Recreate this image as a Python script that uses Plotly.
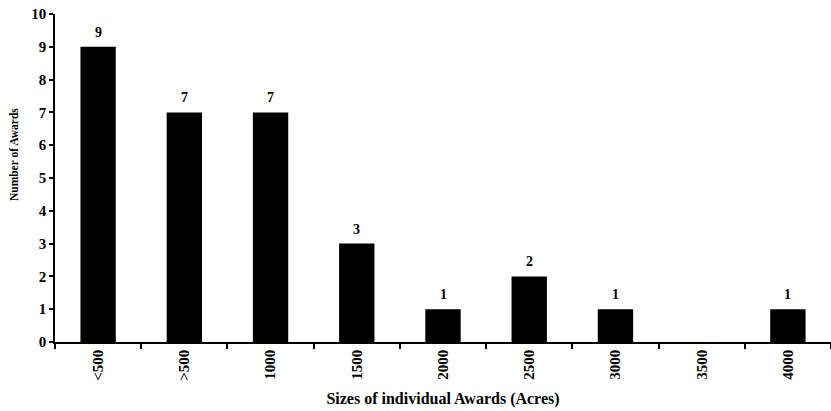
import plotly.graph_objects as go

categories = ["<500", ">500", "1000", "1500", "2000", "2500", "3000", "3500", "4000"]
values = [9, 7, 7, 3, 1, 2, 1, 0, 1]
x_title = "Sizes of individual Awards (Acres)"
y_title = "Number of Awards"

font_family = "Liberation Serif, Times New Roman, serif"

fig = go.Figure(go.Bar(
    x=categories, y=values,
    marker=dict(color="black", line=dict(width=0)),
    width=0.41, cliponaxis=False,
))

for i, v in enumerate(values):
    if v > 0:
        fig.add_annotation(x=i, y=v, text=str(v), showarrow=False,
                           xref="x", yref="y",
                           yanchor="bottom", yshift=5,
                           font=dict(family=font_family, size=14, color="black", weight="bold"))

# y-axis title (placed slightly above centre, as in the original)
fig.add_annotation(x=-0.0528, y=0.57, xref="paper", yref="paper", text=y_title,
                   textangle=-90, showarrow=False, xanchor="center", yanchor="middle",
                   font=dict(family=font_family, size=11.5, color="black", weight="bold"))

fig.update_layout(
    width=831, height=411,
    margin=dict(l=55, r=0, t=14, b=69, autoexpand=False),
    plot_bgcolor="white", paper_bgcolor="white",
    showlegend=False,
    font=dict(family=font_family, color="black", size=14, weight="bold"),
    xaxis=dict(
        type="category", categoryorder="array", categoryarray=categories,
        tickangle=-90, tickson="boundaries",
        ticks="outside", ticklen=5, tickwidth=1.5, tickcolor="black",
        showline=True, linecolor="black", linewidth=1.5,
        showgrid=False, automargin=False,
        tickfont=dict(family=font_family, size=15, weight="bold"),
        title=dict(text=x_title, standoff=13,
                   font=dict(family=font_family, size=16, weight="bold")),
    ),
    yaxis=dict(
        range=[0, 10], dtick=1, ticks="outside", ticklen=4, tickwidth=1.5,
        tickcolor="black", showline=True, linecolor="black", linewidth=1.5,
        showgrid=False, zeroline=False, automargin=False,
        tickfont=dict(family=font_family, size=15, weight="bold"),
    ),
)

fig.write_html("out.html", config={"displayModeBar": False},
               post_script="document.body.style.margin='0';document.body.style.overflow='hidden';")
